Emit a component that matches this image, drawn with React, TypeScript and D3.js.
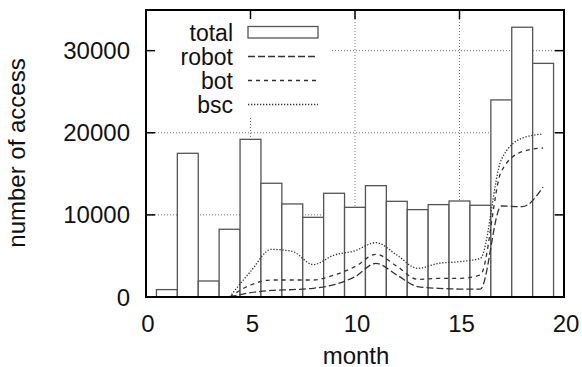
import React from "react";
import * as d3 from "d3";

// Monthly access counts
const months = [1, 2, 3, 4, 5, 6, 7, 8, 9, 10, 11, 12, 13, 14, 15, 16, 17, 18, 19];
const total = [900, 17500, 1950, 8250, 19200, 13850, 11330, 9700, 12630, 10920, 13560, 11650, 10640, 11250, 11690, 11170, 24000, 32850, 28450];

// Crawler series start at month 4
const lineMonths = [4, 5, 6, 7, 8, 9, 10, 11, 12, 13, 14, 15, 16, 17, 18, 19];
const robot = [0, 520, 800, 900, 1060, 1500, 2470, 4100, 2680, 1260, 1060, 970, 970, 11080, 11000, 13400];
const bot = [0, 1460, 2070, 2070, 2070, 2680, 3690, 5200, 3750, 2150, 2270, 2270, 2680, 15300, 17700, 18150];
const bsc = [0, 3100, 5800, 5550, 3950, 5100, 5640, 6620, 5120, 3490, 4100, 4300, 4710, 16700, 19350, 19850];

const xTicks = [0, 5, 10, 15, 20];
const yTicks = [0, 10000, 20000, 30000];
const legendLabels = ["total", "robot", "bot", "bsc"];

const W = 582;
const H = 367;
const left = 146;
const right = 564;
const top = 10;
const bottom = 297;
const font = "'Liberation Sans', Arial, Helvetica, sans-serif";
const fs = 24;

export default function App() {
  const x = d3.scaleLinear().domain([0, 20]).range([left, right]);
  const y = d3.scaleLinear().domain([0, 34950]).range([bottom, top]);

  const series = [
    { name: "robot", values: robot, dash: "7,3" },
    { name: "bot", values: bot, dash: "4,4" },
    { name: "bsc", values: bsc, dash: "1.3,1.7" },
  ];

  const line = (vals: number[]) =>
    d3
      .line<number>()
      .x((_, i) => x(lineMonths[i]))
      .y((d) => y(d))
      .curve(d3.curveMonotoneX)(vals) || "";

  const tickLen = 9;
  const legendX = 233;
  const legendBase = [41, 65, 89, 113];
  const sampleX0 = 248;
  const sampleX1 = 318;

  return (
    <svg
      width={W}
      height={H}
      style={{ position: "absolute", left: 0, top: 0, background: "#fff" }}
      fontFamily={font}
    >
      <rect x={0} y={0} width={W} height={H} fill="#fff" />

      {/* grid */}
      <g stroke="#777" strokeWidth={1} strokeDasharray="1,2">
        {yTicks.filter((t) => t > 0).map((t) => (
          <line key={"gy" + t} x1={left} x2={right} y1={y(t)} y2={y(t)} />
        ))}
        {xTicks.filter((t) => t > 0 && t < 20).map((t) => (
          <line key={"gx" + t} x1={x(t)} x2={x(t)} y1={top} y2={bottom} />
        ))}
      </g>

      {/* opaque key background */}
      <rect x={left} y={top} width={332 - left} height={117 - top} fill="#fff" />

      {/* ticks */}
      <g stroke="#000" strokeWidth={1.5}>
        {yTicks.map((t) => (
          <g key={"ty" + t}>
            <line x1={left} x2={left + tickLen} y1={y(t)} y2={y(t)} />
            <line x1={right} x2={right - tickLen} y1={y(t)} y2={y(t)} />
          </g>
        ))}
        {xTicks.map((t) => (
          <g key={"tx" + t}>
            <line x1={x(t)} x2={x(t)} y1={bottom} y2={bottom - tickLen} />
            <line x1={x(t)} x2={x(t)} y1={top} y2={top + tickLen} />
          </g>
        ))}
      </g>

      {/* bars */}
      <g fill="#fff" stroke="#555" strokeWidth={1.3}>
        {months.map((m, i) => (
          <rect
            key={"b" + m}
            x={x(m - 0.5)}
            y={y(total[i])}
            width={x(m + 0.5) - x(m - 0.5)}
            height={bottom - y(total[i])}
          />
        ))}
      </g>

      {/* crawler lines */}
      {series.map((s) => (
        <path
          key={s.name}
          d={line(s.values)}
          fill="none"
          stroke="#333"
          strokeWidth={1.3}
          strokeDasharray={s.dash}
        />
      ))}

      {/* border */}
      <rect
        x={left}
        y={top}
        width={right - left}
        height={bottom - top}
        fill="none"
        stroke="#000"
        strokeWidth={2}
      />

      {/* tick labels */}
      <g fontSize={fs} fill="#111">
        {yTicks.map((t) => (
          <text key={"ly" + t} x={130} y={y(t) + 8.5} textAnchor="end">
            {t}
          </text>
        ))}
        {xTicks.map((t) => (
          <text key={"lx" + t} x={x(t) + 2} y={332} textAnchor="middle">
            {t}
          </text>
        ))}
      </g>

      {/* axis titles */}
      <text x={356} y={364} fontSize={fs} textAnchor="middle" fill="#111">
        month
      </text>
      <text
        transform={`translate(25,153) rotate(-90)`}
        fontSize={fs}
        textAnchor="middle"
        fill="#111"
      >
        number of access
      </text>

      {/* key */}
      <g fontSize={23} fill="#111">
        {legendLabels.map((l, i) => (
          <text key={"k" + l} x={legendX} y={legendBase[i]} textAnchor="end">
            {l}
          </text>
        ))}
      </g>
      <rect
        x={sampleX0}
        y={legendBase[0] - 14.5}
        width={sampleX1 - sampleX0}
        height={11.5}
        fill="#fff"
        stroke="#555"
        strokeWidth={1.3}
      />
      {series.map((s, i) => (
        <line
          key={"ks" + s.name}
          x1={sampleX0}
          x2={sampleX1}
          y1={legendBase[i + 1] - 8.5}
          y2={legendBase[i + 1] - 8.5}
          stroke="#333"
          strokeWidth={1.3}
          strokeDasharray={s.dash}
        />
      ))}
    </svg>
  );
}
